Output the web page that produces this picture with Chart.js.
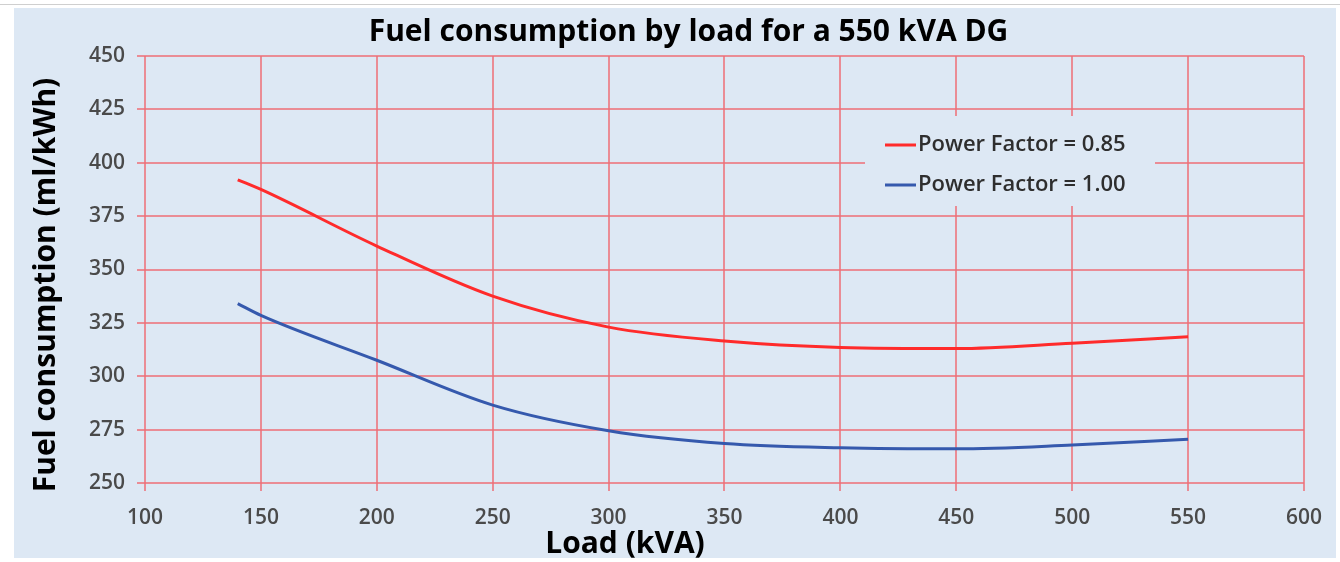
<!DOCTYPE html>
<html>
<head>
<meta charset="utf-8">
<script src="https://cdn.jsdelivr.net/npm/chart.js@4.4.0/dist/chart.umd.min.js"></script>
<style>
  body { margin: 0; background: #fff; }
  #topline { position: absolute; left: 0; top: 4px; width: 1340px; height: 1px; background: #cfcfcf; }
  #box { position: absolute; left: 14px; top: 8px; width: 1322px; height: 550px; background: #dde8f4; }
</style>
</head>
<body>
<div id="topline"></div>
<div id="box"><canvas id="myChart" width="1322" height="550"></canvas></div>
<script>
// dados
const cargas = [140, 150, 200, 250, 300, 350, 400, 450, 500, 550];
const consumoPF085 = [392, 387.5, 361, 337.5, 323, 316.5, 313.5, 313, 315.5, 318.5];
const consumoPF100 = [334, 328.5, 307.5, 286.5, 274.5, 268.5, 266.5, 266, 267.8, 270.5];
const nomesSeries = ['Power Factor = 0.85', 'Power Factor = 1.00'];
const coresSeries = ['#ff2b2b', '#3559ad'];

const corFundo = '#dde8f4';
const corGrade = 'rgba(238, 110, 118, 0.75)';

// legenda dentro da área do gráfico
const legendaInterna = {
    id: 'legendaInterna',
    afterDraw(chart) {
        const c = chart.ctx;
        c.save();
        c.fillStyle = corFundo;
        c.fillRect(851, 108, 290, 90);
        chart.data.datasets.forEach((ds, i) => {
            const y = 137 + i * 40;
            c.strokeStyle = ds.borderColor;
            c.lineWidth = 3;
            c.beginPath();
            c.moveTo(871, y);
            c.lineTo(902, y);
            c.stroke();
            c.fillStyle = '#2e2e2e';
            c.font = '600 22px "Open Sans"';
            c.textBaseline = 'middle';
            c.fillText(ds.label, 904, y);
        });
        c.restore();
    }
};

// títulos dos eixos
const titulosEixos = {
    id: 'titulosEixos',
    afterDraw(chart) {
        const c = chart.ctx;
        c.save();
        c.fillStyle = '#000';
        c.font = 'bold 30px "Open Sans"';
        c.textAlign = 'center';
        c.textBaseline = 'middle';
        c.fillText('Load (kVA)', 611, 536);
        c.translate(32, 277);
        c.rotate(-Math.PI / 2);
        c.fillText('Fuel consumption (ml/kWh)', 0, 0);
        c.restore();
    }
};

const ctx = document.getElementById('myChart');
new Chart(ctx, {
    type: 'line',
    data: {
        datasets: [
            {
                label: nomesSeries[0],
                data: cargas.map((x, i) => ({ x: x, y: consumoPF085[i] })),
                borderColor: coresSeries[0],
                borderWidth: 3,
                pointRadius: 0,
                cubicInterpolationMode: 'monotone',
                fill: false
            },
            {
                label: nomesSeries[1],
                data: cargas.map((x, i) => ({ x: x, y: consumoPF100[i] })),
                borderColor: coresSeries[1],
                borderWidth: 3,
                pointRadius: 0,
                cubicInterpolationMode: 'monotone',
                fill: false
            }
        ]
    },
    options: {
        responsive: false,
        animation: false,
        layout: { padding: { left: 55, right: 28 } },
        scales: {
            x: {
                type: 'linear',
                min: 100,
                max: 600,
                border: { display: false },
                grid: { color: corGrade, lineWidth: 2, tickLength: 8 },
                ticks: {
                    stepSize: 50,
                    padding: 14,
                    color: '#4a4a4a',
                    font: { family: 'Open Sans', size: 21, weight: '600' }
                },
                afterFit(scale) { scale.height = 75; }
            },
            y: {
                min: 250,
                max: 450,
                border: { display: false },
                grid: { color: corGrade, lineWidth: 2, tickLength: 8 },
                ticks: {
                    stepSize: 25,
                    padding: 12,
                    color: '#4a4a4a',
                    font: { family: 'Open Sans', size: 21, weight: '600' }
                },
                afterFit(scale) { scale.width = 76; }
            }
        },
        plugins: {
            legend: { display: false },
            tooltip: { enabled: false },
            title: {
                display: true,
                text: 'Fuel consumption by load for a 550 kVA DG',
                color: '#000',
                padding: { top: 6, bottom: 6 },
                font: { family: 'Open Sans', size: 30, weight: 'bold' }
            }
        }
    },
    plugins: [legendaInterna, titulosEixos]
});
</script>
</body>
</html>
